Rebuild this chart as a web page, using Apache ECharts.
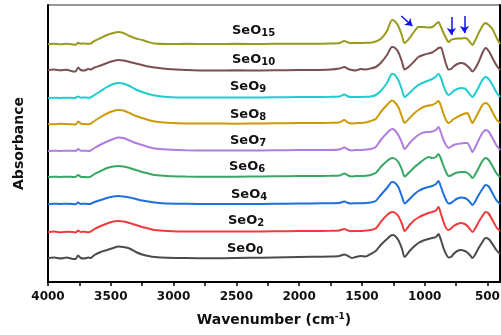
<!DOCTYPE html>
<html><head><meta charset="utf-8">
<script src="https://cdn.jsdelivr.net/npm/echarts@6/dist/echarts.min.js"></script>
<style>html,body{margin:0;padding:0;background:#fff}#c{width:501px;height:335px}</style>
</head><body><div id="c"></div>
<script>
// Wavenumber grid (cm-1), shared by all spectra
const wavenumbers = [4000,3950,3900,3850,3800,3780,3760,3740,3710,3680,3660,3630,3580,3530,3480,3440,3400,3350,3300,3250,3200,3150,3050,2900,2700,2500,2300,2100,1900,1750,1680,1640,1610,1580,1550,1510,1470,1430,1390,1350,1300,1260,1240,1210,1180,1160,1120,1080,1050,1010,970,940,910,890,870,850,830,810,790,770,740,710,680,660,640,620,600,570,540,515,490,460,430,400];

const sampleNames = ['SeO0','SeO2','SeO4','SeO6','SeO7','SeO8','SeO9','SeO10','SeO15'];
const subscripts  = ['0','2','4','6','7','8','9','10','15'];
// vertical stacking offsets (a.u.)
const offsets = [24,50,78,105,131,158,184,212,238];

const seO0  = [0,0.5,-0.5,0.5,-1,-1,2.5,0,-0.5,0.5,0,3,6,8,10,11.5,11,9.5,6,3.5,2,1,0.3,0,-0.3,0,0.3,0.8,1.2,1.5,2,3.5,2,0,1,2,1.5,4,7,13,19,23,22.5,18,9,1,7,12,15,17.5,19,20,21,24,18,10,4,0.5,1,4,7,8,7,5.5,3,0,3,10,16,20,19,14,8,4];
const seO2  = [0,0.5,-0.3,0.3,0,-0.5,1.5,0,0.3,-0.3,0.3,3,6,8.5,10.5,11,10.5,9,7,5,3.5,2,1,0.5,0.5,0.5,0.5,0.8,1,1.2,1.5,3,1.5,0.8,1,1,1.5,2,3.5,10,17,20,19.5,16,8,1,7,12,14.5,17,19,20,21.5,25,18,10,4,2,3.5,6,8,9,8,6,3,0,3,10,16,20,18.5,12,5,1];
const seO4  = [0,0.3,0,0.3,0,-0.3,1.5,0,0.3,0,0.3,2,4,6,7.5,8,7.5,6.5,5,3.5,2.5,1.5,0.5,0.3,0,0,0,0.3,0.5,0.8,1,2.5,1,0.5,0.8,0.8,1,1.5,3,9,16,22,21.5,17,7,0.5,5,10,13,15.5,17,18,20,23,17,10,4,0.5,1,3,5.5,6.5,6,4.5,2,-1,2,9,15,19,17.5,11,4,0];
const seO6  = [0,0.3,0,0.3,0,0.3,2,0.3,0,-0.3,0.3,3,6,9,10.5,11,10.5,9,7,5,3.5,2,1,0.5,0.3,0.3,0.5,0.8,1,1.2,1.5,3.5,1.5,0.5,1,1,1.2,2,4,10,16,19,18.5,15,7,0.5,5,10,13,17,20,19,20,23,18,11,5,1,1.5,3,4.5,5,5,4,2,-1,2,9,16,19,17,11,4,0];
const seO7  = [0,0.3,0,0.3,0.3,0,2,0.3,0.3,0,0.5,3,6.5,9.5,12,13.5,13,10.5,8,6,4,2.5,1.5,0.8,0.5,0.5,0.5,0.8,1,1,1.5,3.5,1.5,0.5,1,1,1.5,2,4,11,18,22,21,16,8,2,8,13,16,18.5,19,19.5,21,24,18,11,6,3,4.5,6,7,7.5,8,8,4,-1,3,11,18,21,19.5,13,6,1];
const seO8  = [0,-0.3,0.3,0,-0.3,-0.5,2.5,0.5,0,-0.3,0.3,3,7,10.5,13,14,13.5,11,8,6,4,2.5,1.2,0.5,0.5,0.3,0.5,0.8,1,1.2,1.5,4,1.5,0.5,0.8,1,1.5,3,5,12,19,23.5,22,17,7,1,6,11,14,17,18.5,19,21,23,18,10,4,1,2.5,5,7,9,10.5,11,6,1,5,12,19,21,19,12,5,1];
const seO9  = [0,0.3,0,0.3,0,0.3,1.5,0.3,0.5,0.3,0.5,3,7,11,14,15,14.5,12,8.5,6,4,2.5,1,0.5,0.5,0.5,0.5,0.8,1,1.2,1.5,3.5,1.5,1,1,1,1.2,1.5,3,7,15,24,23.5,18,8,1,5,10,13,15.5,17.5,19,21.5,24,20,12,6,3,4.5,7,9,10,9.5,7,3.5,1,4,11,18,21,19,13,6,1];
const seO10 = [0,0.5,-0.3,0.3,-1.5,-1.5,2.5,0,-0.5,1,0.5,2.5,4.5,7,9,10,9.5,8,6.5,5,3.5,2.5,1,0,-0.5,-0.3,-0.5,-0.2,0,0.5,1.5,3,1,0,-0.5,1,0.5,1.5,3,7,15,23,22.5,18,8,0.5,4,9,13,15,16.5,17.5,20,22,22.5,15,6,0.5,1,3.5,6,7,6,4,1.5,-1.5,1,8,17,22,19,12,5,0];
const seO15 = [0,0.3,-0.3,0.2,-0.5,-0.8,1.2,0.3,0.5,0.2,0.5,3,6,9,11,12,11,8,5.5,4,2,0.5,0,0.2,0,0.2,0,0.3,0.3,0.5,1,3,1.5,0.8,1,1,1.2,1.3,2.5,5,13,24,23,18,8,1,6,13,17,17,16.5,17,20,22,17,11,6,2,4,5,5.5,5.5,6,5,2,-1,3,11,18,21,19,15,7,0];

const spectra = [seO0, seO2, seO4, seO6, seO7, seO8, seO9, seO10, seO15];

const xTickValues  = [4000,3750,3500,3250,3000,2750,2500,2250,2000,1750,1500,1250,1000,750,500];
const xLabelValues = [4000,3500,3000,2500,2000,1500,1000,500];

// annotation arrows on SeO15, in data units [wavenumber, absorbance]
const arrowMarks = [
  [[1186,266],[1098,256]],
  [[787,265],[787,247]],
  [[683,266],[683,249]]
];

const colors = ['#4b4b4b','#ee3b3b','#1f6fe0','#36a864','#b07ce0','#cc9a06','#1fcdcd','#7b4f4f','#9a9a1e'];
const FONT = '"DejaVu Sans", "Liberation Sans", Arial, sans-serif';

const chart = echarts.init(document.getElementById('c'), null, {renderer: 'canvas'});

const series = spectra.map((vals, i) => {
  const s = {
    name: sampleNames[i],
    type: 'line',
    data: wavenumbers.map((w, j) => [w, offsets[i] + vals[j]]),
    showSymbol: false,
    smooth: 0.25,
    lineStyle: {color: colors[i], width: 2},
    itemStyle: {color: colors[i]},
    z: 2 + i,
    silent: true
  };
  if (sampleNames[i] === 'SeO15') {
    s.markLine = {
      silent: true,
      symbol: ['none', 'arrow'],
      symbolSize: 7,
      label: {show: false},
      lineStyle: {color: '#1010f0', width: 1.5, type: 'solid'},
      data: arrowMarks.map(a => [{coord: a[0]}, {coord: a[1]}]),
      animation: false
    };
  }
  return s;
});

// sample labels
const labelPos = [[227,246],[228,218],[231,192],[229,164],[230,138],[230,112],[230,84],[232,57],[232,28]];
const graphics = sampleNames.map((n, i) => ({
  type: 'text',
  left: labelPos[i][0],
  top: labelPos[i][1] - 7,
  z: 100,
  style: {
    text: '{m|SeO}{s|' + subscripts[i] + '}',
    rich: {
      m: {fontSize: 13, fontWeight: 'bold', fontFamily: FONT, fill: '#111', lineHeight: 14, verticalAlign: 'top'},
      s: {fontSize: 10, fontWeight: 'bold', fontFamily: FONT, fill: '#111', lineHeight: 10, padding: [7,0,0,0], verticalAlign: 'bottom'}
    }
  }
}));

chart.setOption({
  animation: false,
  backgroundColor: '#fff',
  grid: {left: 48, right: 1, top: 5, bottom: 53, show: true, borderColor: '#333', borderWidth: 1, containLabel: false, outerBoundsMode: 'none'},
  xAxis: {
    type: 'value',
    inverse: true,
    min: 400,
    max: 4000,
    name: 'Wavenumber (cm{sup|-1})',
    nameLocation: 'middle',
    nameGap: 30,
    nameTextStyle: {
      fontSize: 14, fontWeight: 'bold', fontFamily: FONT, color: '#111',
      rich: {sup: {fontSize: 9, fontWeight: 'bold', fontFamily: FONT, color: '#111', padding: [0,0,8,0]}}
    },
    axisLine: {show: true, onZero: false, lineStyle: {color: '#000', width: 2}},
    axisTick: {show: true, inside: false, length: 4, customValues: xTickValues, lineStyle: {color: '#000', width: 1.5}},
    axisLabel: {show: true, customValues: xLabelValues, margin: 9, fontSize: 12, fontWeight: 'bold', fontFamily: FONT, color: '#111', formatter: v => String(v)},
    splitLine: {show: false}
  },
  yAxis: [{
    type: 'value',
    min: 0,
    max: 277,
    name: 'Absorbance',
    nameLocation: 'middle',
    nameGap: 22,
    nameTextStyle: {fontSize: 14, fontWeight: 'bold', fontFamily: FONT, color: '#111'},
    axisLine: {show: true, onZero: false, lineStyle: {color: '#000', width: 2}},
    axisTick: {show: false},
    axisLabel: {show: false},
    splitLine: {show: false}
  }, {
    type: 'value',
    position: 'right',
    min: 0,
    max: 277,
    axisLine: {show: true, onZero: false, lineStyle: {color: '#000', width: 2}},
    axisTick: {show: false},
    axisLabel: {show: false},
    splitLine: {show: false}
  }],
  series: series,
  graphic: graphics
});
</script>
</body></html>
